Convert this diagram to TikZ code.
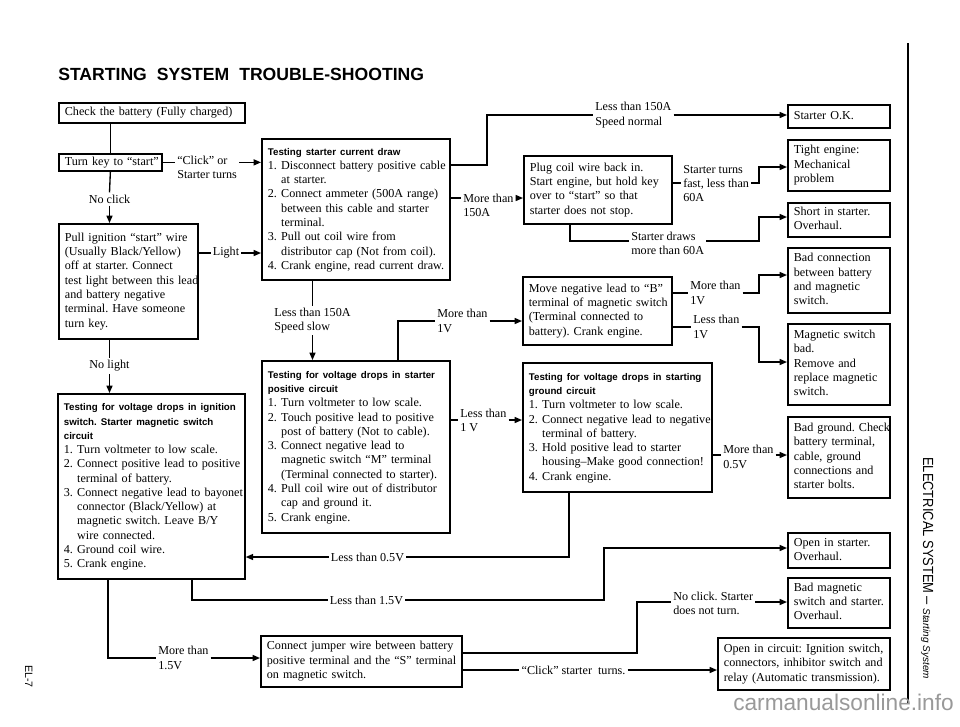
\documentclass[tikz,border=0pt]{standalone}
\usepackage{fontspec}
\setmainfont{Liberation Serif}
\setsansfont{Liberation Sans}
\usetikzlibrary{arrows.meta}
\newcommand\bodyfont{\fontsize{9.1pt}{10.7pt}\selectfont\frenchspacing}
\newcommand\hdfont{\sffamily\bfseries\fontsize{7.3pt}{10.7pt}\selectfont}
\newcommand\itm[1]{\makebox[1.1em][l]{#1}}
\newcommand\ind{\hspace*{1.1em}}
\tikzset{
  box/.style={draw, line width=1.3pt, inner sep=0pt, align=left, font=\bodyfont},
  lbl/.style={inner sep=1.5pt, align=left, font=\bodyfont},
  con/.style={line width=1pt},
  arr/.style={con, -{Triangle[length=5.5pt,width=4.5pt]}},
}
\newcommand\bx[6]{\node[box, anchor=north west, minimum width={(#4-#2)*0.75pt}, minimum height={(#5-#3)*0.75pt}, text width={(#4-#2-12)*0.75pt}] (#1) at (#2,#3) {\begin{tabular}{@{}l@{}}#6\end{tabular}};}
\begin{document}
\begin{tikzpicture}[x=0.75pt,y=-0.75pt]
\useasboundingbox (0,0) rectangle (960,726);
\fill[white] (0,0) rectangle (960,726);

% title and page furniture
\node[anchor=base west, inner sep=0pt, font=\sffamily\bfseries\fontsize{13.2pt}{16pt}\selectfont] (title) at (58,80) {STARTING\hspace{7.5pt}SYSTEM\hspace{7.5pt}TROUBLE-SHOOTING};
\draw[line width=1.3pt] (908,43) -- (908,704);
\node[rotate=-90, anchor=base west, inner sep=0pt] (side) at (923,457) {\scalebox{0.88}[1]{\sffamily\fontsize{11pt}{13pt}\selectfont ELECTRICAL SYSTEM} {\sffamily\fontsize{11pt}{13pt}\selectfont --} {\sffamily\itshape\fontsize{7.5pt}{9pt}\selectfont Starting System}};
\node[rotate=-90, anchor=base west, inner sep=0pt, font=\sffamily\fontsize{8pt}{9pt}\selectfont] (pageno) at (25,665) {EL-7};
\node[anchor=base west, inner sep=0pt, text=black!40, font=\sffamily\fontsize{17pt}{20pt}\selectfont] (wm) at (733,710) {carmanualsonline.info};

% boxes
\bx{check}{58}{102}{244}{122}{Check the battery (Fully charged)}
\bx{turnkey}{58}{153}{161}{170}{Turn key to “start”}
\bx{pull}{58}{223}{197}{338}{Pull ignition “start” wire\\(Usually Black/Yellow)\\off at starter. Connect\\test light between this lead\\and battery negative\\terminal. Have someone\\turn key.}
\bx{cur}{261}{138}{449}{279}{{\hdfont Testing starter current draw}\\
\itm{1.}Disconnect battery positive cable\\
\ind at starter.\\
\itm{2.}Connect ammeter (500A range)\\
\ind between this cable and starter\\
\ind terminal.\\
\itm{3.}Pull out coil wire from\\
\ind distributor cap (Not from coil).\\
\itm{4.}Crank engine, read current draw.}
\bx{startok}{787}{104}{889}{127}{Starter O.K.}
\bx{tight}{787}{139}{889}{190}{Tight engine:\\Mechanical\\problem}
\bx{plug}{523}{155}{671}{223}{Plug coil wire back in.\\Start engine, but hold key\\over to “start” so that\\starter does not stop.}
\bx{short}{787}{202}{889}{236}{Short in starter.\\Overhaul.}
\bx{badconn}{787}{247}{889}{312}{Bad connection\\between battery\\and magnetic\\switch.}
\bx{moveneg}{522}{276}{671}{344}{Move negative lead to “B”\\terminal of magnetic switch\\(Terminal connected to\\battery). Crank engine.}
\bx{magsw}{787}{323}{889}{404}{Magnetic switch\\bad.\\Remove and\\replace magnetic\\switch.}
\bx{vpos}{261}{360}{449}{532}{{\hdfont Testing for voltage drops in starter}\\
{\hdfont positive circuit}\\
\itm{1.}Turn voltmeter to low scale.\\
\itm{2.}Touch positive lead to positive\\
\ind post of battery (Not to cable).\\
\itm{3.}Connect negative lead to\\
\ind magnetic switch “M” terminal\\
\ind (Terminal connected to starter).\\
\itm{4.}Pull coil wire out of distributor\\
\ind cap and ground it.\\
\itm{5.}Crank engine.}
\bx{vgnd}{522}{362}{711}{491}{{\hdfont Testing for voltage drops in starting}\\
{\hdfont ground circuit}\\
\itm{1.}Turn voltmeter to low scale.\\
\itm{2.}Connect negative lead to negative\\
\ind terminal of battery.\\
\itm{3.}Hold positive lead to starter\\
\ind housing–Make good connection!\\
\itm{4.}Crank engine.}
\bx{badgnd}{787}{416}{889}{497}{Bad ground. Check\\battery terminal,\\cable, ground\\connections and\\starter bolts.}
\bx{vign}{57}{393}{244}{578}{{\hdfont Testing for voltage drops in ignition}\\
{\hdfont switch. Starter magnetic switch}\\
{\hdfont circuit}\\
\itm{1.}Turn voltmeter to low scale.\\
\itm{2.}Connect positive lead to positive\\
\ind terminal of battery.\\
\itm{3.}Connect negative lead to bayonet\\
\ind connector (Black/Yellow) at\\
\ind magnetic switch. Leave B/Y\\
\ind wire connected.\\
\itm{4.}Ground coil wire.\\
\itm{5.}Crank engine.}
\bx{openst}{787}{532}{889}{567}{Open in starter.\\Overhaul.}
\bx{badmag}{787}{577}{889}{627}{Bad magnetic\\switch and starter.\\Overhaul.}
\bx{jumper}{260}{635}{461}{686}{Connect jumper wire between battery\\positive terminal and the “S” terminal\\on magnetic switch.}
\bx{opencirc}{717}{637}{889}{689}{Open in circuit: Ignition switch,\\connectors, inhibitor switch and\\relay (Automatic transmission).}

% labels
\node[lbl, anchor=west] (lclick) at (175,167) {“Click” or\\Starter turns};
\node[lbl] (lnoclick) at (109.5,199) {No click};
\node[lbl] (llight) at (226,253) {Light};
\node[lbl] (lnolight) at (109.5,366) {No light};
\node[lbl, anchor=west] (lnormal) at (593,115) {Less than 150A\\Speed normal};
\node[lbl, anchor=west] (lmore150) at (461,205.5) {More than\\150A};
\node[lbl, anchor=west] (lturn) at (681,183.5) {Starter turns\\fast, less than\\60A};
\node[lbl, anchor=west] (ldraws) at (629,243) {Starter draws\\more than 60A};
\node[lbl] (lslow) at (312.5,320.5) {Less than 150A\\Speed slow};
\node[lbl, anchor=west] (lmore1v) at (435,321) {More than\\1V};
\node[lbl, anchor=west] (lmore1vb) at (688,293) {More than\\1V};
\node[lbl, anchor=west] (lless1vb) at (691,327) {Less than\\1V};
\node[lbl, anchor=west] (lless1v) at (458,420.5) {Less than\\1 V};
\node[lbl, anchor=west] (lmore05) at (721,457) {More than\\0.5V};
\node[lbl] (lless05) at (367.5,557) {Less than 0.5V};
\node[lbl] (lless15) at (366.5,600) {Less than 1.5V};
\node[lbl, anchor=west] (lmore15) at (156,658) {More than\\1.5V};
\node[lbl, anchor=west] (lnoclick2) at (671,603.5) {No click. Starter\\does not turn.};
\node[lbl] (lclick2) at (573.5,670) {“Click” starter\ \ turns.};

% connectors
\draw[con] (check.south -| turnkey.south) -- (turnkey.north);
\draw[con] (turnkey.south) -- (lnoclick.north);
\draw[arr] (lnoclick.south) -- (lnoclick.south |- pull.north);
\draw[con] (turnkey.east) -- (turnkey.east -| lclick.west);
\draw[arr] (lclick.east |- turnkey.east) -- (cur.west |- turnkey.east);
\draw[con] (pull.east |- llight.west) -- (llight.west);
\draw[arr] (llight.east) -- (cur.west |- llight.east);
\draw[con] (pull.south -| lnolight.north) -- (lnolight.north);
\draw[arr] (lnolight.south) -- (lnolight.south |- vign.north);

\draw[con] (cur.east |- 0,165) -| (487,115) -- (lnormal.west);
\draw[arr] (lnormal.east) -- (startok.west |- lnormal.east);
\draw[con] (cur.east |- 0,198) -- (lmore150.west |- 0,198);
\draw[arr] (lmore150.east |- 0,198) -- (plug.west |- 0,198);
\draw[con] (plug.east |- 0,183) -- (lturn.west |- 0,183);
\draw[arr] (lturn.east |- 0,183) -- (759,183) |- (tight.west |- 0,167);
\draw[con] (plug.south -| 570,0) |- (ldraws.west |- 0,241);
\draw[arr] (ldraws.east |- 0,241) -- (759,241) |- (short.west |- 0,217);

\draw[con] (cur.south -| lslow.north) -- (lslow.north);
\draw[arr] (lslow.south) -- (lslow.south |- vpos.north);
\draw[con] (vpos.north -| 398,0) |- (lmore1v.west |- 0,321);
\draw[arr] (lmore1v.east |- 0,321) -- (moveneg.west |- 0,321);
\draw[con] (moveneg.east |- 0,293) -- (lmore1vb.west |- 0,293);
\draw[arr] (lmore1vb.east |- 0,293) -- (759,293) |- (badconn.west |- 0,275);
\draw[con] (moveneg.east |- 0,327) -- (lless1vb.west |- 0,327);
\draw[arr] (lless1vb.east |- 0,327) -- (759,327) |- (magsw.west |- 0,362);
\draw[con] (vpos.east |- 0,420) -- (lless1v.west |- 0,420);
\draw[arr] (lless1v.east |- 0,420) -- (vgnd.west |- 0,420);
\draw[con] (vgnd.east |- 0,455) -- (lmore05.west |- 0,455);
\draw[arr] (lmore05.east |- 0,455) -- (badgnd.west |- 0,455);

\draw[con] (vgnd.south -| 569,0) |- (lless05.east);
\draw[arr] (lless05.west) -- (vign.east |- lless05.west);
\draw[con] (vign.south -| 192,0) |- (lless15.west);
\draw[arr] (lless15.east) -- (604,600) |- (openst.west |- 0,548);
\draw[con] (vign.south -| 108,0) |- (lmore15.west |- 0,658);
\draw[arr] (lmore15.east |- 0,658) -- (jumper.west |- 0,658);
\draw[con] (jumper.east |- 0,653) -| (637,602) -- (lnoclick2.west |- 0,602);
\draw[arr] (lnoclick2.east |- 0,602) -- (badmag.west |- 0,602);
\draw[con] (jumper.east |- 0,670) -- (lclick2.west);
\draw[arr] (lclick2.east) -- (opencirc.west |- lclick2.east);
\end{tikzpicture}
\end{document}
